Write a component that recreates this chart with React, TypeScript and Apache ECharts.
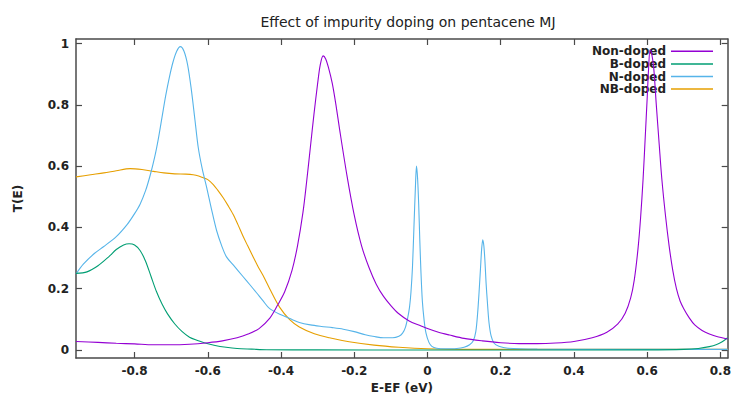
import React, { useEffect, useRef } from "react";
import * as echarts from "echarts";

const titleText = "Effect of impurity doping on pentacene MJ";
const xTicks = [-0.8, -0.6, -0.4, -0.2, 0, 0.2, 0.4, 0.6, 0.8];
const yTicks = [0, 0.2, 0.4, 0.6, 0.8, 1];
const seriesNames = ["Non-doped", "B-doped", "N-doped", "NB-doped"];

const nonDoped = [
  [-0.96, 0.028], [-0.9, 0.025], [-0.85, 0.022], [-0.8, 0.02], [-0.75, 0.017], [-0.7, 0.017],
  [-0.65, 0.019], [-0.6, 0.024], [-0.56, 0.03], [-0.52, 0.04], [-0.49, 0.052], [-0.46, 0.07],
  [-0.43, 0.105], [-0.41, 0.145], [-0.39, 0.19], [-0.37, 0.26], [-0.355, 0.34], [-0.34, 0.45],
  [-0.33, 0.55], [-0.32, 0.66], [-0.31, 0.77], [-0.3, 0.87], [-0.293, 0.93], [-0.285, 0.96],
  [-0.278, 0.95], [-0.27, 0.92], [-0.26, 0.87], [-0.25, 0.8], [-0.24, 0.72], [-0.22, 0.57],
  [-0.2, 0.44], [-0.18, 0.34], [-0.16, 0.27], [-0.14, 0.215], [-0.12, 0.175], [-0.1, 0.145],
  [-0.08, 0.12], [-0.05, 0.095], [-0.02, 0.08], [0, 0.07], [0.03, 0.058], [0.06, 0.049],
  [0.1, 0.038], [0.15, 0.03], [0.2, 0.024], [0.25, 0.021], [0.3, 0.021], [0.35, 0.023],
  [0.4, 0.028], [0.45, 0.04], [0.49, 0.058], [0.52, 0.085], [0.54, 0.12], [0.555, 0.17],
  [0.565, 0.23], [0.575, 0.33], [0.582, 0.43], [0.589, 0.56], [0.595, 0.7], [0.6, 0.82],
  [0.604, 0.92], [0.608, 0.98], [0.612, 0.97], [0.618, 0.92], [0.625, 0.8], [0.633, 0.67],
  [0.64, 0.56], [0.65, 0.44], [0.66, 0.34], [0.67, 0.26], [0.68, 0.2], [0.69, 0.16],
  [0.7, 0.135], [0.715, 0.105], [0.73, 0.082], [0.75, 0.064], [0.77, 0.052], [0.79, 0.044],
  [0.82, 0.036],
];

const bDoped = [
  [-0.96, 0.25], [-0.93, 0.255], [-0.9, 0.275], [-0.87, 0.305], [-0.85, 0.328], [-0.83, 0.343],
  [-0.815, 0.347], [-0.8, 0.343], [-0.785, 0.325], [-0.77, 0.29], [-0.755, 0.24], [-0.74, 0.19],
  [-0.725, 0.15], [-0.71, 0.118], [-0.69, 0.085], [-0.67, 0.06], [-0.65, 0.042], [-0.63, 0.032],
  [-0.61, 0.024], [-0.58, 0.015], [-0.55, 0.009], [-0.52, 0.005], [-0.48, 0.003], [-0.44, 0.001],
  [-0.3, 0.0005], [0, 0], [0.3, 0], [0.6, 0.0005], [0.7, 0.002], [0.74, 0.005], [0.77, 0.011],
  [0.79, 0.018], [0.805, 0.027], [0.82, 0.04],
];

const nDoped = [
  [-0.96, 0.248], [-0.94, 0.28], [-0.91, 0.315], [-0.885, 0.337], [-0.85, 0.37], [-0.82, 0.41],
  [-0.8, 0.445], [-0.785, 0.476], [-0.77, 0.52], [-0.757, 0.572], [-0.745, 0.63], [-0.735, 0.69],
  [-0.725, 0.76], [-0.715, 0.83], [-0.705, 0.89], [-0.695, 0.94], [-0.685, 0.975], [-0.675, 0.99],
  [-0.665, 0.975], [-0.655, 0.93], [-0.645, 0.85], [-0.635, 0.75], [-0.626, 0.66], [-0.615, 0.59],
  [-0.603, 0.53], [-0.59, 0.46], [-0.576, 0.39], [-0.562, 0.34], [-0.549, 0.304], [-0.53, 0.277],
  [-0.504, 0.24], [-0.485, 0.213], [-0.467, 0.187], [-0.45, 0.162], [-0.431, 0.135], [-0.4, 0.115],
  [-0.37, 0.1], [-0.35, 0.09], [-0.32, 0.082], [-0.29, 0.077], [-0.26, 0.073], [-0.23, 0.068],
  [-0.2, 0.06], [-0.17, 0.05], [-0.145, 0.044], [-0.12, 0.04], [-0.095, 0.04], [-0.078, 0.045],
  [-0.068, 0.055], [-0.06, 0.075], [-0.054, 0.105], [-0.049, 0.14], [-0.045, 0.19], [-0.041, 0.27],
  [-0.037, 0.4], [-0.033, 0.53], [-0.03, 0.6], [-0.027, 0.56], [-0.024, 0.476], [-0.021, 0.36],
  [-0.018, 0.26], [-0.014, 0.16], [-0.009, 0.095], [-0.004, 0.055], [0.004, 0.025], [0.012, 0.012],
  [0.025, 0.006], [0.05, 0.004], [0.08, 0.005], [0.1, 0.009], [0.115, 0.017], [0.125, 0.03],
  [0.132, 0.06], [0.137, 0.12], [0.141, 0.19], [0.145, 0.27], [0.148, 0.33], [0.151, 0.36],
  [0.154, 0.34], [0.157, 0.29], [0.16, 0.22], [0.164, 0.15], [0.168, 0.09], [0.174, 0.045],
  [0.182, 0.022], [0.195, 0.012], [0.22, 0.006], [0.3, 0.003], [0.5, 0.002], [0.82, 0.002],
];

const nbDoped = [
  [-0.96, 0.565], [-0.92, 0.572], [-0.884, 0.578], [-0.85, 0.585], [-0.812, 0.592], [-0.78, 0.589],
  [-0.748, 0.583], [-0.72, 0.578], [-0.69, 0.575], [-0.66, 0.574], [-0.64, 0.572], [-0.625, 0.568],
  [-0.6125, 0.562], [-0.6, 0.556], [-0.585, 0.54], [-0.573, 0.522], [-0.558, 0.497], [-0.545, 0.472],
  [-0.531, 0.443], [-0.518, 0.41], [-0.504, 0.372], [-0.491, 0.34], [-0.477, 0.306], [-0.464, 0.275],
  [-0.449, 0.243], [-0.431, 0.2], [-0.404, 0.14], [-0.377, 0.1], [-0.35, 0.075], [-0.309, 0.053],
  [-0.268, 0.04], [-0.214, 0.027], [-0.146, 0.016], [-0.078, 0.009], [0, 0.004], [0.1, 0.002],
  [0.82, 0.002],
];

const seriesData = [nonDoped, bDoped, nDoped, nbDoped];
const colors = ["#9400d3", "#009e73", "#56b4e9", "#e69f00"];

const FONT = "DejaVu Sans";
const AX = "#4a4a4a";

export default function App() {
  const ref = useRef<HTMLDivElement>(null);
  useEffect(() => {
    if (!ref.current) return;
    const chart = echarts.init(ref.current, null, { renderer: "svg" });
    const xBase = {
      type: "value",
      min: -0.96,
      max: 0.82,
      splitLine: { show: false },
      axisLine: { show: true, onZero: false, lineStyle: { color: AX, width: 1.5 } },
      axisTick: { show: true, inside: true, length: 6, customValues: xTicks, lineStyle: { color: AX, width: 1.2 } },
    };
    const yBase = {
      type: "value",
      min: -0.026,
      max: 1.015,
      splitLine: { show: false },
      axisLine: { show: true, onZero: false, lineStyle: { color: AX, width: 1.5 } },
      axisTick: { show: true, inside: true, length: 6, customValues: yTicks, lineStyle: { color: AX, width: 1.2 } },
    };
    chart.setOption({
      animation: false,
      backgroundColor: "#ffffff",
      color: colors,
      title: {
        text: titleText,
        left: 403,
        textAlign: "center",
        top: 10,
        textStyle: { fontFamily: FONT, fontSize: 14, fontWeight: "normal", color: "#222" },
      },
      legend: {
        orient: "vertical",
        right: 16,
        top: 40,
        align: "right",
        icon: "rect",
        itemWidth: 42,
        itemHeight: 1.5,
        itemGap: 0,
        data: seriesNames,
        textStyle: { fontFamily: FONT, fontSize: 12, fontWeight: "bold", color: "#222", lineHeight: 12.6 },
      },
      grid: { left: 76, right: 3, top: 39, bottom: 37, containLabel: false },
      xAxis: [
        {
          ...xBase,
          position: "bottom",
          name: "E-EF (eV)",
          nameLocation: "middle",
          nameGap: 24,
          nameTextStyle: { fontFamily: FONT, fontSize: 12, fontWeight: "bold", color: "#222" },
          axisLabel: {
            customValues: xTicks,
            margin: 7,
            fontFamily: FONT,
            fontSize: 12,
            fontWeight: "bold",
            color: "#222",
          },
        },
        { ...xBase, position: "top", axisLabel: { show: false } },
      ],
      yAxis: [
        {
          ...yBase,
          position: "left",
          name: "T(E)",
          nameLocation: "middle",
          nameGap: 52,
          nameRotate: 90,
          nameTextStyle: { fontFamily: FONT, fontSize: 12, fontWeight: "bold", color: "#222" },
          axisLabel: {
            customValues: yTicks,
            margin: 7,
            fontFamily: FONT,
            fontSize: 12,
            fontWeight: "bold",
            color: "#222",
          },
        },
        { ...yBase, position: "right", axisLabel: { show: false } },
      ],
      series: seriesNames.map((name, i) => ({
        name,
        type: "line",
        data: seriesData[i],
        xAxisIndex: 0,
        yAxisIndex: 0,
        showSymbol: false,
        symbol: "none",
        smooth: 0.3,
        clip: true,
        lineStyle: { width: 1.1, color: colors[i] },
        itemStyle: { color: colors[i] },
        z: 2 + (3 - i),
      })),
    });
    return () => chart.dispose();
  }, []);
  return (
    <div
      ref={ref}
      style={{ position: "absolute", left: 0, top: 0, width: 734, height: 399 }}
    />
  );
}
